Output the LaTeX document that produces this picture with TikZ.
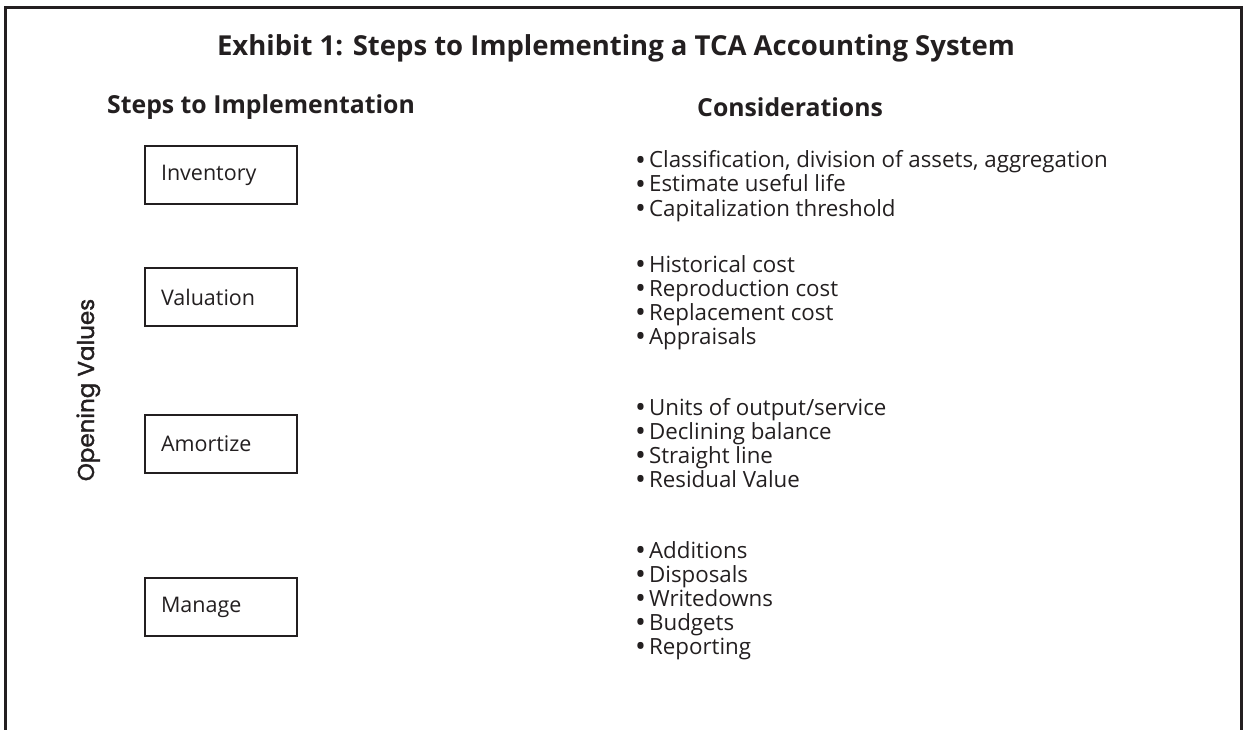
\documentclass[tikz,border=0pt]{standalone}
\usepackage{fontspec}
\setmainfont{Open Sans}
\newfontfamily\labelfont[FakeBold=1.6]{Poppins}
\definecolor{ink}{HTML}{231F20}
\newcommand{\bl}{\raisebox{-2.2pt}{\fontsize{29}{24}\selectfont •}\hspace{3pt}}
\newcommand{\li}[1]{\hbox{\bl #1}}
\newcommand{\grp}[1]{\vtop{\baselineskip=24pt\lineskiplimit=-100pt\lineskip=0pt #1}}
\begin{document}
\begin{tikzpicture}[x=1pt,y=-1pt,
  stepbox/.style={draw=ink,line width=2pt,minimum width=152pt,minimum height=58pt,
    inner xsep=15pt,text width=120pt,align=left,font=\fontsize{21.5}{24}\selectfont,text=ink},
  bul/.style={anchor=base west,inner sep=0pt,font=\fontsize{22.3}{24}\selectfont,text=ink},
  head/.style={inner sep=0pt,font=\fontsize{24.8}{30}\selectfont\bfseries,text=ink},
  ttl/.style={inner sep=0pt,font=\fontsize{27.5}{32}\selectfont\bfseries,text=ink}]
\useasboundingbox (0,0) rectangle (1244,730);
\draw[ink,line width=3pt] (5.5,730) -- (5.5,8) -- (1241.5,8) -- (1241.5,730);
\node[ttl,anchor=base] (title) at (616,56) {Exhibit 1: Steps to Implementing a TCA Accounting System};
\node[head,anchor=base west] (h1) at (107,114) {Steps to Implementation};
\node[head,anchor=base west] (h2) at (697,117) {Considerations};
\node[stepbox] (inv) at (221,175) {Inventory};
\node[stepbox] (val) at (221,297) {Valuation};
\node[stepbox] (amo) at (221,443.5) {Amortize};
\node[stepbox] (man) at (221,607) {Manage};
\node[inner sep=0pt,rotate=90,anchor=base,font=\labelfont\fontsize{23}{24}\selectfont,text=ink] (ov) at (94,390) {Opening Values};
\node[bul] (g1) at (635,168) {\grp{\li{Classification, division of assets, aggregation}\li{Estimate useful life}\li{Capitalization threshold}}};
\node[bul] (g2) at (635,272) {\grp{\li{Historical cost}\li{Reproduction cost}\li{Replacement cost}\li{Appraisals}}};
\node[bul] (g3) at (635,415) {\grp{\li{Units of output/service}\li{Declining balance}\li{Straight line}\li{Residual Value}}};
\node[bul] (g4) at (635,558) {\grp{\li{Additions}\li{Disposals}\li{Writedowns}\li{Budgets}\li{Reporting}}};
\end{tikzpicture}
\end{document}
